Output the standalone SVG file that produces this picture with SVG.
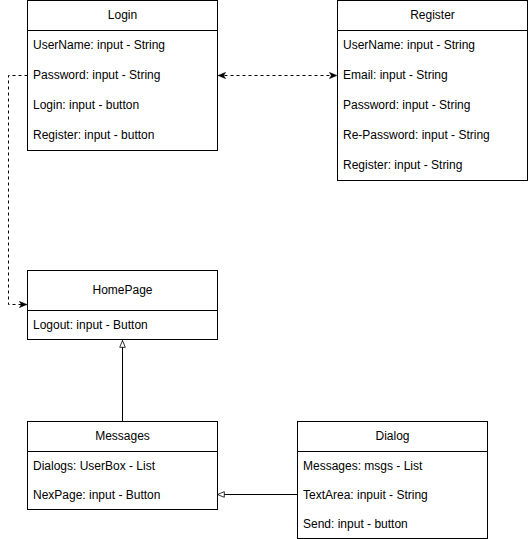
<svg xmlns="http://www.w3.org/2000/svg" width="528" height="539" viewBox="0 0 528 539">
<style>
.box{fill:#fff;stroke:#000;stroke-width:1}
.t{font-family:"Liberation Sans",Arial,sans-serif;font-size:12px;fill:#000}
.c{text-anchor:middle}
.ln{fill:none;stroke:#000;stroke-width:1}
.d{stroke-dasharray:3 3}
</style>
<defs>
<marker id="arr" viewBox="0 0 10 10" refX="9" refY="5" markerWidth="8" markerHeight="8" markerUnits="userSpaceOnUse" orient="auto-start-reverse">
<path d="M0,1 L10,5 L0,9 L2.5,5 Z" fill="#000" stroke="#000" stroke-width="0.5"/>
</marker>
<marker id="tri" viewBox="0 0 10 10" refX="9.5" refY="5" markerWidth="8" markerHeight="8" markerUnits="userSpaceOnUse" orient="auto">
<path d="M1,1.5 L9.5,5 L1,8.5 Z" fill="#fff" stroke="#000" stroke-width="1"/>
</marker>
</defs>
<g id="connectors">
<path class="ln d" d="M27.5,75.5 H8.5 V304.5 H26.5" marker-end="url(#arr)"/>
<path class="ln d" d="M218.5,75.5 H336.5" marker-start="url(#arr)" marker-end="url(#arr)"/>
<path class="ln" d="M122.5,421 V340.5" marker-end="url(#tri)"/>
<path class="ln" d="M297,494.5 H217.5" marker-end="url(#tri)"/>
</g>
<g id="login">
<rect class="box" x="27.5" y="0.5" width="190" height="150"/>
<line class="ln" x1="27.5" y1="30.5" x2="217.5" y2="30.5"/>
<text class="t c" x="122.5" y="19">Login</text>
<text class="t" x="33" y="49">UserName: input - String</text>
<text class="t" x="33" y="79">Password: input - String</text>
<text class="t" x="33" y="109">Login: input - button</text>
<text class="t" x="33" y="139">Register: input - button</text>
</g>
<g id="register">
<rect class="box" x="337.5" y="0.5" width="190" height="180"/>
<line class="ln" x1="337.5" y1="30.5" x2="527.5" y2="30.5"/>
<text class="t c" x="432.5" y="19">Register</text>
<text class="t" x="343" y="49">UserName: input - String</text>
<text class="t" x="343" y="79">Email: input - String</text>
<text class="t" x="343" y="109">Password: input - String</text>
<text class="t" x="343" y="139">Re-Password: input - String</text>
<text class="t" x="343" y="169">Register: input - String</text>
</g>
<g id="homepage">
<rect class="box" x="27.5" y="270.5" width="190" height="69"/>
<line class="ln" x1="27.5" y1="310.5" x2="217.5" y2="310.5"/>
<text class="t c" x="122.5" y="294">HomePage</text>
<text class="t" x="33" y="329">Logout: input - Button</text>
</g>
<g id="messages">
<rect class="box" x="27.5" y="421.5" width="190" height="88"/>
<line class="ln" x1="27.5" y1="451.5" x2="217.5" y2="451.5"/>
<text class="t c" x="122.5" y="440">Messages</text>
<text class="t" x="33" y="470">Dialogs: UserBox - List</text>
<text class="t" x="33" y="499">NexPage: input - Button</text>
</g>
<g id="dialog">
<rect class="box" x="297.5" y="421.5" width="190" height="117"/>
<line class="ln" x1="297.5" y1="451.5" x2="487.5" y2="451.5"/>
<text class="t c" x="392.5" y="440">Dialog</text>
<text class="t" x="303" y="470">Messages: msgs - List</text>
<text class="t" x="303" y="499">TextArea: inpuit - String</text>
<text class="t" x="303" y="528">Send: input - button</text>
</g>
</svg>
